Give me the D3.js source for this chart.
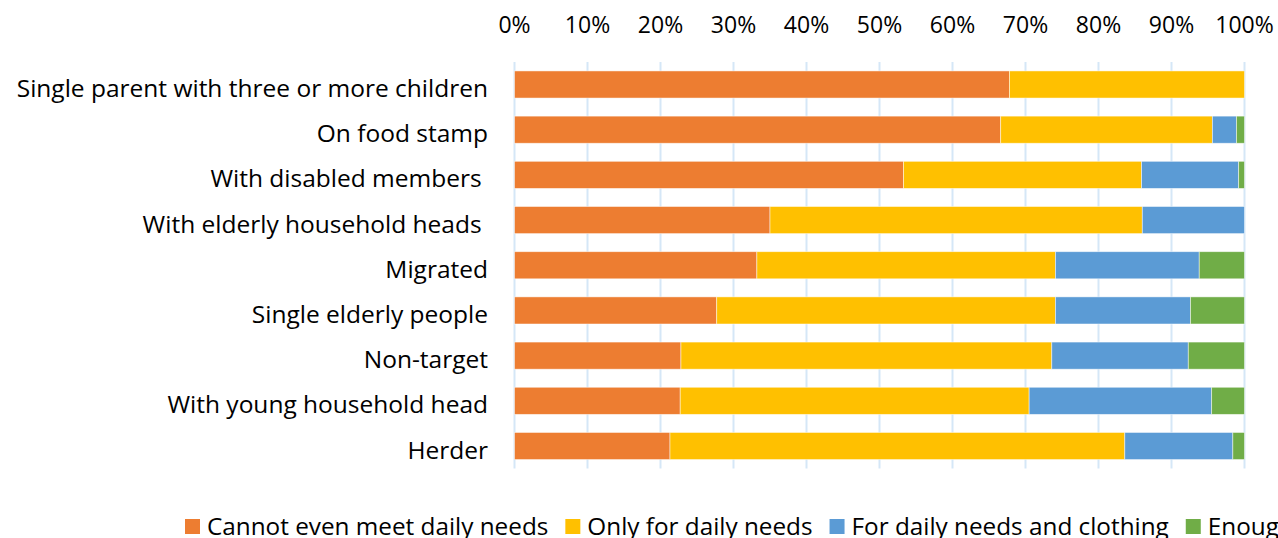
<!DOCTYPE html>
<html>
<head>
<meta charset="utf-8">
<script src="https://cdn.jsdelivr.net/npm/d3@7"></script>
<style>
  body { margin: 0; background: #fff; overflow: hidden; }
  text { font-family: "Open Sans", sans-serif; fill: #000; }
</style>
</head>
<body>
<main></main>
<script>
// categories, top to bottom
var categories = ["Single parent with three or more children", "On food stamp",
                  "With disabled members ", "With elderly household heads ",
                  "Migrated", "Single elderly people", "Non-target",
                  "With young household head", "Herder"];

// series values in percent, same order as categories
var cannotMeet   = [67.8, 66.6, 53.3, 35.0, 33.2, 27.7, 22.8, 22.7, 21.3];
var dailyOnly    = [32.2, 29.0, 32.6, 51.0, 40.9, 46.4, 50.8, 47.8, 62.3];
var dailyCloth   = [ 0.0,  3.3, 13.3, 14.0, 19.7, 18.5, 18.7, 25.0, 14.8];
var enough       = [ 0.0,  1.1,  0.8,  0.0,  6.2,  7.4,  7.7,  4.5,  1.6];

var seriesNames = ["Cannot even meet daily needs", "Only for daily needs",
                   "For daily needs and clothing", "Enough for all needs"];
var tickValues = [0, 10, 20, 30, 40, 50, 60, 70, 80, 90, 100];

var colors = ["#ED7D31", "#FFC000", "#5B9BD5", "#70AD47"];

var w = 1278,
    h = 538;

var svg = d3.select("main")
            .append("svg")
            .attr("width", w)
            .attr("height", h);

var x = d3.scaleLinear().domain([0, 100]).range([514.5, 1244.5]);
var y = d3.scaleBand().domain(categories).range([61.9, 468.6])
          .paddingInner(0.4).paddingOuter(0.2);

// gridlines
svg.append("g")
   .selectAll("line")
   .data(tickValues)
   .enter()
   .append("line")
   .attr("x1", function (d) { return x(d); })
   .attr("x2", function (d) { return x(d); })
   .attr("y1", 61.9)
   .attr("y2", 468.6)
   .attr("stroke", "#D5E7F7")
   .attr("stroke-width", 2);

// tick labels along the top
svg.append("g")
   .selectAll("text")
   .data(tickValues)
   .enter()
   .append("text")
   .text(function (d) { return d + "%"; })
   .attr("text-anchor", "middle")
   .attr("x", function (d) { return x(d); })
   .attr("y", 33)
   .attr("font-size", "23px");

// stack the series
var rows = categories.map(function (c, i) {
  return { cat: c, s0: cannotMeet[i], s1: dailyOnly[i], s2: dailyCloth[i], s3: enough[i] };
});
var stack = d3.stack().keys(["s0", "s1", "s2", "s3"])(rows);

svg.append("g")
   .selectAll("g")
   .data(stack)
   .enter()
   .append("g")
   .attr("fill", function (d, i) { return colors[i]; })
   .selectAll("rect")
   .data(function (d) { return d; })
   .enter()
   .filter(function (d) { return d[1] - d[0] > 0; })
   .append("rect")
   .attr("x", function (d) { return x(d[0]); })
   .attr("y", function (d) { return y(d.data.cat); })
   .attr("width", function (d) { return x(d[1]) - x(d[0]); })
   .attr("height", y.bandwidth())
   .attr("stroke", "#fff")
   .attr("stroke-opacity", 0.6)
   .attr("stroke-width", 0.8);

// category labels
svg.append("g")
   .selectAll("text")
   .data(categories)
   .enter()
   .append("text")
   .text(function (d) { return d; })
   .attr("text-anchor", "end")
   .attr("xml:space", "preserve")
   .style("white-space", "pre")
   .attr("x", 488)
   .attr("y", function (d) { return y(d) + y.bandwidth() / 2 + 12.5; })
   .attr("font-size", "24.5px");

// legend (last entry runs off the right edge, as in the original)
var legend = svg.append("g");
var lx = 185;
seriesNames.forEach(function (name, i) {
  legend.append("rect")
        .attr("x", lx)
        .attr("y", 519)
        .attr("width", 15)
        .attr("height", 15)
        .attr("fill", colors[i]);
  var t = legend.append("text")
        .text(name)
        .attr("x", lx + 22)
        .attr("y", 535)
        .attr("font-size", "24.3px");
  lx += 22 + t.node().getComputedTextLength() + 17;
});
</script>
</body>
</html>
